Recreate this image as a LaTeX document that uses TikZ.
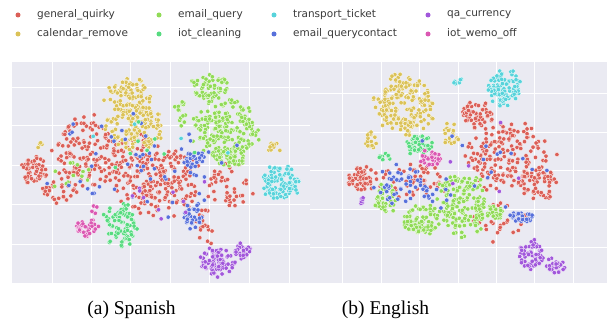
\documentclass[tikz,border=0pt]{standalone}
\usepackage{fontspec}
\usepackage{xcolor}
\usepackage{tikz}
\usetikzlibrary{positioning}
\setsansfont{DejaVu Sans}
\newfontfamily\capfont{Liberation Serif}
\definecolor{quirkyred}{HTML}{DB5F57}
\definecolor{calyellow}{HTML}{DBC257}
\definecolor{emailgreen}{HTML}{91DB57}
\definecolor{iotgreen}{HTML}{57DB80}
\definecolor{ticketcyan}{HTML}{57D3DB}
\definecolor{contactblue}{HTML}{5770DB}
\definecolor{currpurple}{HTML}{A157DB}
\definecolor{wemopink}{HTML}{DB57B2}
\definecolor{panelbg}{HTML}{EAEAF2}
\definecolor{labelgray}{HTML}{3A3A3A}
\tikzset{
  panel/.style={fill=panelbg, draw=none},
  gridline/.style={draw=white, line width=0.9pt},
  dot/.style={draw=white, line width=0.3pt},
  legdot/.style={circle, inner sep=0pt, minimum size=5pt},
  legtext/.style={anchor=west, inner sep=0pt, font=\sffamily\fontsize{10.5}{12}\selectfont, text=labelgray},
  caption/.style={inner sep=0pt, font=\capfont\fontsize{19.5}{22}\selectfont}
}
% colour/cx/cy/rx/ry/count, drawn as a fuzzy elliptic cloud
\newcommand{\dotcloud}[6]{%
  \foreach \k in {1,...,#6}{%
    \pgfmathsetmacro{\dotang}{360*rnd}%
    \pgfmathsetmacro{\dotrad}{sqrt(rnd)*(0.8+0.35*rnd)}%
    \filldraw[dot, fill=#1] ({#2+#4*\dotrad*cos(\dotang)},{#3+#5*\dotrad*sin(\dotang)}) circle (2.2pt);
  }%
}

\begin{document}
\begin{tikzpicture}[x=1pt, y=-1pt]
\useasboundingbox (0,0) rectangle (612,323);
\pgfmathsetseed{4211}

% legend
\foreach \name/\col/\lx/\ly in {quirky/quirkyred/18/15, calendar/calyellow/18/34,
    email/emailgreen/159/15, cleaning/iotgreen/159/34,
    ticket/ticketcyan/274/15, contact/contactblue/274/34,
    currency/currpurple/428/15, wemo/wemopink/428/34}
  \node[legdot, fill=\col] (leg-\name) at (\lx,\ly) {};
\node[legtext] (lab-quirky)   at (37,15)  {general\_quirky};
\node[legtext] (lab-calendar) at (37,34)  {calendar\_remove};
\node[legtext] (lab-email)    at (178,15) {email\_query};
\node[legtext] (lab-cleaning) at (178,34) {iot\_cleaning};
\node[legtext] (lab-ticket)   at (293,15) {transport\_ticket};
\node[legtext] (lab-contact)  at (293,34) {email\_querycontact};
\node[legtext] (lab-currency) at (447,15) {qa\_currency};
\node[legtext] (lab-wemo)     at (447,34) {iot\_wemo\_off};

% Spanish embedding
\fill[panel] (12,62) rectangle (310,283);
\foreach \gx in {52,91,130,170,209,249,289}
  \draw[gridline] (\gx,62) -- (\gx,283);
\foreach \gy in {87,125,165,204,244}
  \draw[gridline] (12,\gy) -- (310,\gy);
\begin{scope}
\clip (12,62) rectangle (310,283);
\foreach \col/\cx/\cy/\rx/\ry/\n in {
    quirkyred/35/170/13/15/55, quirkyred/82/150/30/34/115, quirkyred/150/172/48/24/175,
    quirkyred/160/202/38/16/55, quirkyred/228/185/24/22/45, quirkyred/60/190/18/13/30,
    quirkyred/205/228/10/22/18, quirkyred/130/145/28/12/30,
    calyellow/128/98/22/20/90, calyellow/135/128/30/22/120, calyellow/275/148/9/5/14,
    calyellow/40/145/3/3/4,
    emailgreen/210/88/20/13/60, emailgreen/225/130/32/30/200, emailgreen/232/158/15/10/40,
    emailgreen/180/112/8/15/15, emailgreen/70/175/25/15/12,
    ticketcyan/280/183/19/16/110, ticketcyan/150/130/100/50/4,
    contactblue/195/160/11/8/30, contactblue/192/216/10/14/35, contactblue/140/165/95/50/55,
    iotgreen/120/225/17/22/80, iotgreen/130/160/60/40/8,
    wemopink/87/227/11/9/35, wemopink/95/205/4/10/4,
    currpurple/218/262/18/14/90, currpurple/243/252/9/9/30, currpurple/170/200/50/30/10}
  {\dotcloud{\col}{\cx}{\cy}{\rx}{\ry}{\n}}
\end{scope}

% English embedding
\fill[panel] (310,62) rectangle (607,283);
\foreach \gx in {342,381,419,458,496,534,573}
  \draw[gridline] (\gx,62) -- (\gx,283);
\foreach \gy in {93,132,170,209,247}
  \draw[gridline] (310,\gy) -- (607,\gy);
\begin{scope}
\clip (310,62) rectangle (607,283);
\foreach \col/\cx/\cy/\rx/\ry/\n in {
    calyellow/405/105/30/30/200, calyellow/372/140/7/10/18, calyellow/450/135/9/12/20,
    ticketcyan/505/88/16/17/100, ticketcyan/457/81/5/4/8,
    quirkyred/477/115/14/13/55, quirkyred/510/158/42/34/180, quirkyred/540/185/20/16/45,
    quirkyred/360/178/13/12/45, quirkyred/410/180/42/16/60, quirkyred/500/222/26/20/30,
    iotgreen/418/145/15/10/50, iotgreen/385/158/6/5/10,
    wemopink/430/158/10/8/35,
    emailgreen/420/220/17/15/80, emailgreen/462/205/25/30/180, emailgreen/385/200/10/15/40,
    emailgreen/497/213/10/8/25,
    contactblue/520/217/12/5/35, contactblue/410/190/32/14/45, contactblue/460/180/80/45/30,
    currpurple/532/255/13/14/60, currpurple/555/266/10/8/30, currpurple/362/200/4/4/6,
    currpurple/480/160/60/40/6}
  {\dotcloud{\col}{\cx}{\cy}{\rx}{\ry}{\n}}
\end{scope}

% sub-captions
\node[caption] (cap-es) at (131.5,310) {(a) Spanish};
\node[caption] (cap-en) at (385.5,310) {(b) English};
\end{tikzpicture}
\end{document}
